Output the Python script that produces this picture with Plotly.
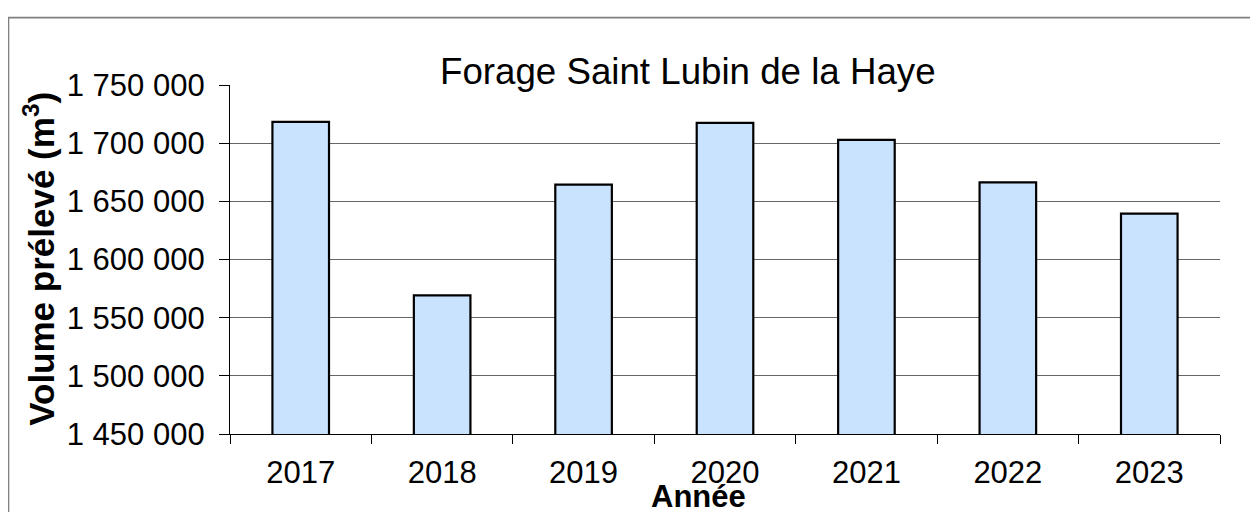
import plotly.graph_objects as go

years = ["2017", "2018", "2019", "2020", "2021", "2022", "2023"]
volumes = [1718300, 1569200, 1664300, 1717400, 1702900, 1666300, 1639400]
y_ticks = [1450000, 1500000, 1550000, 1600000, 1650000, 1700000, 1750000]

title_text = "Forage Saint Lubin de la Haye"
y_title = "Volume prélevé (m<sup>3</sup>)"
x_title = "Année"

FONT = "Liberation Sans, Arial, sans-serif"

fig = go.Figure()
fig.add_trace(go.Bar(
    x=years, y=volumes,
    marker=dict(color="#C9E2FD", line=dict(color="black", width=2.2)),
    showlegend=False,
))

OFF = 8  # page body margin
W, H = 1250, 504
# plot area in page pixels
PL, PR, PT, PB = 230, 1220, 85, 434.5
L = PL - OFF
T = PT - OFF
R = W - (PR - OFF)
B = H - (PB - OFF)
pw = PR - PL
ph = PB - PT

def px(xp):
    return (xp - PL) / pw

def py(yp):
    return (PB - yp) / ph

fig.update_layout(
    width=W, height=H,
    margin=dict(l=L, r=R, t=T, b=B, pad=0),
    paper_bgcolor="white", plot_bgcolor="white",
    separators=", ",
    bargap=0.6,
    font=dict(family=FONT, size=31, color="black"),
    xaxis=dict(
        type="category",
        showline=True, linecolor="black", linewidth=1.2,
        ticks="outside", ticklen=9, tickcolor="black", tickwidth=1,
        tickson="boundaries",
        showgrid=False,
        tickfont=dict(family=FONT, size=31, color="black"),
        ticklabelstandoff=11,
    ),
    yaxis=dict(
        range=[1450000, 1750000],
        tickvals=y_ticks,
        tickformat=",d",
        showline=True, linecolor="black", linewidth=1.2,
        ticks="outside", ticklen=10, tickcolor="black", tickwidth=1,
        showgrid=True, gridcolor="#666666", gridwidth=1.2,
        zeroline=False,
        tickfont=dict(family=FONT, size=31, color="black"),
        ticklabelstandoff=8,
    ),
    shapes=[dict(
        type="rect", xref="paper", yref="paper",
        x0=px(8.5), x1=px(1300), y0=py(560), y1=py(17.5),
        line=dict(color="#808080", width=1.6), fillcolor="rgba(0,0,0,0)",
        layer="below",
    )],
    annotations=[
        dict(text=title_text, xref="paper", yref="paper", x=px(687.5), y=py(71),
             xanchor="center", yanchor="middle", showarrow=False,
             font=dict(family=FONT, size=36.7, color="black")),
        dict(text="<b>" + y_title + "</b>", xref="paper", yref="paper", x=px(39), y=py(259),
             xanchor="center", yanchor="middle", showarrow=False, textangle=-90,
             font=dict(family=FONT, size=35, color="black")),
        dict(text="<b>" + x_title + "</b>", xref="paper", yref="paper", x=px(698), y=py(497),
             xanchor="center", yanchor="middle", showarrow=False,
             font=dict(family=FONT, size=31, color="black")),
    ],
)

fig.write_html("out.html")
